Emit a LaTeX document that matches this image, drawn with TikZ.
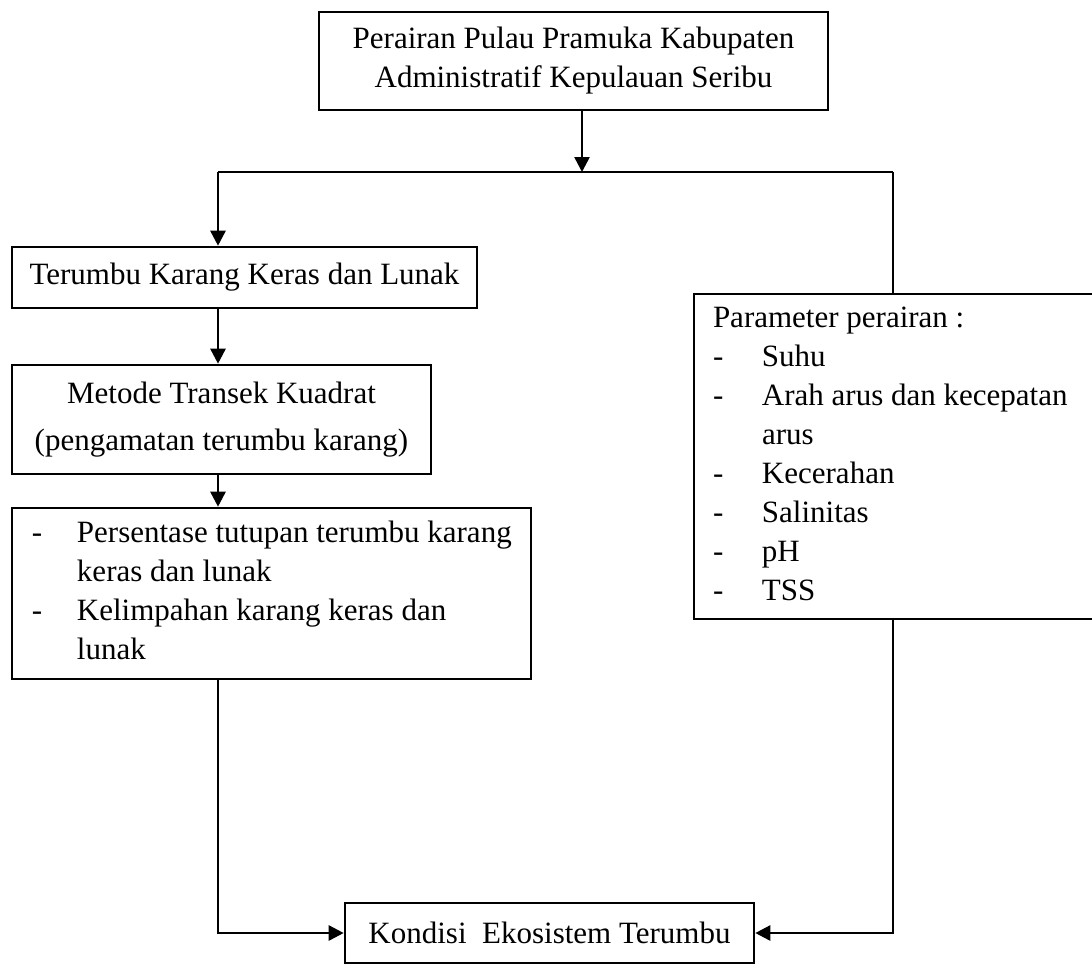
\documentclass[tikz,border=0pt]{standalone}
\usepackage{fontspec}
\setmainfont{Liberation Serif}
\usetikzlibrary{arrows.meta}

\begin{document}
\begin{tikzpicture}[x=0.5pt,y=-0.5pt,
	kotak/.style={draw, line width=1.3pt, inner sep=0pt, font=\fontsize{15.5}{19.5}\selectfont},
	panah/.style={line width=1.3pt, -{Triangle[length=7.5pt,width=7.5pt]}},
	garis/.style={line width=1.3pt}]
	\useasboundingbox (0,0) rectangle (1092,965);

	\node[kotak, minimum width=254.5pt, minimum height=49pt, align=center] (wilayah) at (573.5,61) {Perairan Pulau Pramuka Kabupaten\\Administratif Kepulauan Seribu};
	\node[kotak, minimum width=232.5pt, minimum height=30.5pt] (terumbu) at (244.5,277.5) {Terumbu Karang Keras dan Lunak};
	\node[kotak, minimum width=209.5pt, minimum height=54.5pt, align=center] (metode) at (221.5,419.5) {Metode Transek Kuadrat\\[4pt](pengamatan terumbu karang)};
	\node[kotak, inner xsep=10pt, minimum height=85.5pt] (persen) at (271.5,593.5) {\makebox[239.5pt][l]{\begin{tabular}{@{}p{22.5pt}@{}l@{}}
		- & Persentase tutupan terumbu karang\\
		  & keras dan lunak\\
		- & Kelimpahan karang keras dan\\
		  & lunak
	\end{tabular}}};
	\node[kotak, inner xsep=9.5pt, minimum height=162.5pt] (param) at (896,456.5) {\makebox[183pt][l]{\begin{tabular}{@{}p{24.5pt}@{}l@{}}
		\multicolumn{2}{@{}l@{}}{Parameter perairan :}\\
		- & Suhu\\
		- & Arah arus dan kecepatan\\
		  & arus\\
		- & Kecerahan\\
		- & Salinitas\\
		- & pH\\
		- & TSS
	\end{tabular}}};
	\node[kotak, minimum width=204.5pt, minimum height=30pt] (kondisi) at (549.5,933) {Kondisi~~Ekosistem Terumbu};

	\coordinate (cabang) at (582,172);
	\coordinate (kiri) at (218,172);
	\coordinate (kanan) at (893,172);

	\draw[panah] (wilayah.south -| cabang) -- (cabang);
	\draw[garis] (kiri) -- (kanan);
	\draw[panah] (kiri) -- (kiri |- terumbu.north);
	\draw[panah] (terumbu.south -| kiri) -- (metode.north -| kiri);
	\draw[panah] (metode.south -| kiri) -- (persen.north -| kiri);
	\draw[panah] (persen.south -| kiri) |- (kondisi.west);
	\draw[garis] (kanan) -- (kanan |- param.north);
	\draw[panah] (param.south -| kanan) |- (kondisi.east);
\end{tikzpicture}
\end{document}
